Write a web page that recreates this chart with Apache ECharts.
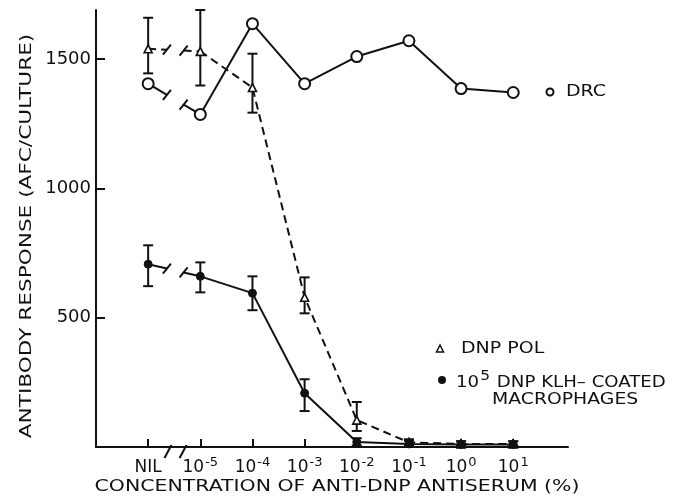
<!DOCTYPE html>
<html>
<head>
<meta charset="utf-8">
<script src="https://cdn.jsdelivr.net/npm/echarts@6/dist/echarts.min.js"></script>
<style>html,body{margin:0;padding:0;background:#fff;}#c{width:688px;height:502px;}</style>
</head>
<body>
<div id="c"></div>
<script>
// Category positions (index along x axis) and tick labels
var xPos = [0, 1, 2, 3, 4, 5, 6, 7];
var xBase = ['NIL', '10', '10', '10', '10', '10', '10', '10'];
var xExp = ['', '-5', '-4', '-3', '-2', '-1', '0', '1'];
var yTicks = [500, 1000, 1500];

// DRC (open circles)
var drc = [1405, 1286, 1637, 1405, 1510, 1571, 1386, 1371];

// DNP POL (open triangles, dashed) with error limits
var pol = [1540, 1530, 1390, 579, 104, 18, 12, 12];
var polLow = [1445, 1398, 1293, 517, 62, 5, 4, 4];
var polHigh = [1660, 1690, 1521, 656, 174, 30, 22, 22];

// 10^5 DNP KLH-coated macrophages (filled circles) with error limits
var mac = [707, 660, 595, 208, 19, 12, 10, 10];
var macLow = [622, 598, 529, 139, 6, 2, 2, 2];
var macHigh = [780, 714, 660, 262, 34, 24, 22, 22];

var FONT = 'DejaVu Sans';
var INK = '#111';

function pairs(vals) {
  var out = [[xPos[0], vals[0]], [0.5, '-']];
  for (var i = 1; i < vals.length; i++) out.push([xPos[i], vals[i]]);
  return out;
}
function errData(low, high) {
  return xPos.map(function (x, i) { return [x, low[i], high[i]]; });
}

var chart = echarts.init(document.getElementById('c'), null, {renderer: 'canvas'});

function errRender(params, api) {
  var x = api.value(0);
  var p1 = api.coord([x, api.value(1)]);
  var p2 = api.coord([x, api.value(2)]);
  var w = 5;
  var st = {stroke: INK, lineWidth: 2};
  return {
    type: 'group',
    children: [
      {type: 'line', shape: {x1: p1[0], y1: p1[1], x2: p2[0], y2: p2[1]}, style: st},
      {type: 'line', shape: {x1: p1[0] - w, y1: p1[1], x2: p1[0] + w, y2: p1[1]}, style: st},
      {type: 'line', shape: {x1: p2[0] - w, y1: p2[1], x2: p2[0] + w, y2: p2[1]}, style: st}
    ]
  };
}

var breakSets = [drc, pol, mac];
var breakDash = [null, [8, 5], null];

function slash(x, y, st) {
  return {type: 'line', shape: {x1: x - 4, y1: y + 5, x2: x + 4, y2: y - 5}, style: st};
}

function breakRender(params, api) {
  var idx = params.dataIndex;
  var children = [];
  if (idx < 3) {
    var v = breakSets[idx];
    var a = api.coord([xPos[0], v[0]]);
    var b = api.coord([xPos[1], v[1]]);
    var f1 = 0.36, f2 = 0.68;
    var m1 = [a[0] + (b[0] - a[0]) * f1, a[1] + (b[1] - a[1]) * f1];
    var m2 = [a[0] + (b[0] - a[0]) * f2, a[1] + (b[1] - a[1]) * f2];
    var ls = {stroke: INK, lineWidth: 2};
    if (breakDash[idx]) ls.lineDash = breakDash[idx];
    var ss = {stroke: INK, lineWidth: 2};
    children.push({type: 'line', shape: {x1: a[0], y1: a[1], x2: m1[0], y2: m1[1]}, style: ls});
    children.push({type: 'line', shape: {x1: m2[0], y1: m2[1], x2: b[0], y2: b[1]}, style: ls});
    children.push(slash(m1[0], m1[1], ss));
    children.push(slash(m2[0], m2[1], ss));
  } else {
    var o = api.coord([xPos[0], 0]);
    var q = api.coord([xPos[1], 0]);
    var s1 = o[0] + (q[0] - o[0]) * 0.38;
    var s2 = o[0] + (q[0] - o[0]) * 0.67;
    var st = {stroke: INK, lineWidth: 2};
    children.push({type: 'line', shape: {x1: s1 - 3.5, y1: o[1] + 11, x2: s1 + 3.5, y2: o[1] - 2}, style: st});
    children.push({type: 'line', shape: {x1: s2 - 3.5, y1: o[1] + 11, x2: s2 + 3.5, y2: o[1] - 2}, style: st});
  }
  return {type: 'group', children: children};
}

function txt(x, y, s, sx, extra) {
  var style = {text: s, x: 0, y: 0, fill: INK, font: '16.5px "DejaVu Sans"', textAlign: 'left', textVerticalAlign: 'middle'};
  if (extra) for (var k in extra) style[k] = extra[k];
  return {type: 'text', x: x, y: y, scaleX: sx, style: style, z: 10};
}

var option = {
  backgroundColor: '#fff',
  animation: false,
  grid: {left: 96, right: 120, top: 10, bottom: 55, containLabel: false},
  xAxis: {
    type: 'value', min: -1, max: 8.05, interval: 1,
    axisLine: {show: true, onZero: false, lineStyle: {color: INK, width: 2}},
    axisTick: {show: true, inside: true, length: 8, lineStyle: {color: INK, width: 2}, customValues: xPos},
    splitLine: {show: false},
    axisLabel: {
      customValues: xPos, margin: 9, color: INK,
      formatter: function (val) {
        var i = xPos.indexOf(val);
        if (i < 0) return '';
        if (!xExp[i]) return '{b|' + xBase[i] + '}';
        return '{b|' + xBase[i] + '}{s|' + xExp[i] + '}';
      },
      rich: {
        b: {fontFamily: FONT, fontSize: 17, color: INK, verticalAlign: 'bottom', lineHeight: 20},
        s: {fontFamily: FONT, fontSize: 13, color: INK, verticalAlign: 'top', lineHeight: 20, padding: [0, 0, 8, 1]}
      }
    }
  },
  yAxis: {
    type: 'value', min: 0, max: 1690, interval: 500,
    axisLine: {show: true, onZero: false, lineStyle: {color: INK, width: 2}},
    axisTick: {show: true, inside: true, length: 9, lineStyle: {color: INK, width: 2}, customValues: yTicks},
    splitLine: {show: false},
    axisLabel: {customValues: yTicks, margin: 5, color: INK, fontFamily: FONT, fontSize: 18,
      formatter: function (v) { return String(v); }}
  },
  series: [
    {
      name: 'DRC', type: 'line', data: pairs(drc), connectNulls: false,
      symbol: 'circle', symbolSize: 11, showSymbol: true,
      lineStyle: {color: INK, width: 2},
      itemStyle: {color: '#fff', borderColor: INK, borderWidth: 2},
      z: 3
    },
    {
      name: 'DNP POL', type: 'line', data: pairs(pol), connectNulls: false,
      symbol: 'triangle', symbolSize: 8,
      lineStyle: {color: INK, width: 2, type: [8, 5]},
      itemStyle: {color: '#fff', borderColor: INK, borderWidth: 1.6},
      z: 4
    },
    {
      name: 'MAC', type: 'line', data: pairs(mac), connectNulls: false,
      symbol: 'circle', symbolSize: 8,
      lineStyle: {color: INK, width: 2},
      itemStyle: {color: INK, borderColor: INK, borderWidth: 1},
      z: 4
    },
    {type: 'custom', renderItem: errRender, data: errData(polLow, polHigh), encode: {x: 0, y: [1, 2]}, z: 2, silent: true},
    {type: 'custom', renderItem: errRender, data: errData(macLow, macHigh), encode: {x: 0, y: [1, 2]}, z: 2, silent: true},
    {type: 'custom', renderItem: breakRender, data: [[0, 0], [0, 0], [0, 0], [0, 0]], encode: {x: 0, y: 1}, z: 2, silent: true, clip: false}
  ],
  graphic: [
    // axis titles
    txt(337, 487, 'CONCENTRATION OF ANTI-DNP ANTISERUM (%)', 1.24, {textAlign: 'center'}),
    {type: 'text', x: 27, y: 236, rotation: Math.PI / 2, scaleX: 1.31,
      style: {text: 'ANTIBODY RESPONSE (AFC/CULTURE)', x: 0, y: 0, fill: INK, font: '16.5px "DejaVu Sans"', textAlign: 'center', textVerticalAlign: 'middle'}},
    // annotations / legend
    {type: 'circle', shape: {cx: 550, cy: 92, r: 3.5}, style: {fill: '#fff', stroke: INK, lineWidth: 2}},
    txt(566, 92, 'DRC', 1.15),
    {type: 'polygon', shape: {points: [[440, 345], [436.5, 352], [443.5, 352]]}, style: {fill: '#fff', stroke: INK, lineWidth: 1.5}},
    txt(461, 349, 'DNP POL', 1.15),
    {type: 'circle', shape: {cx: 442, cy: 380, r: 4}, style: {fill: INK}},
    {type: 'text', x: 456, y: 380, scaleX: 1.1, z: 10, style: {
      text: '{b|10}{s|5}{b| DNP KLH– COATED}', x: 0, y: 0, textAlign: 'left', textVerticalAlign: 'middle',
      rich: {
        b: {fontFamily: FONT, fontSize: 16.5, fill: INK, verticalAlign: 'bottom', lineHeight: 22},
        s: {fontFamily: FONT, fontSize: 14, fill: INK, verticalAlign: 'top', lineHeight: 22, padding: [0, 1, 6, 1]}
      }
    }},
    txt(492, 400, 'MACROPHAGES', 1.14)
  ]
};
chart.setOption(option);
</script>
</body>
</html>
